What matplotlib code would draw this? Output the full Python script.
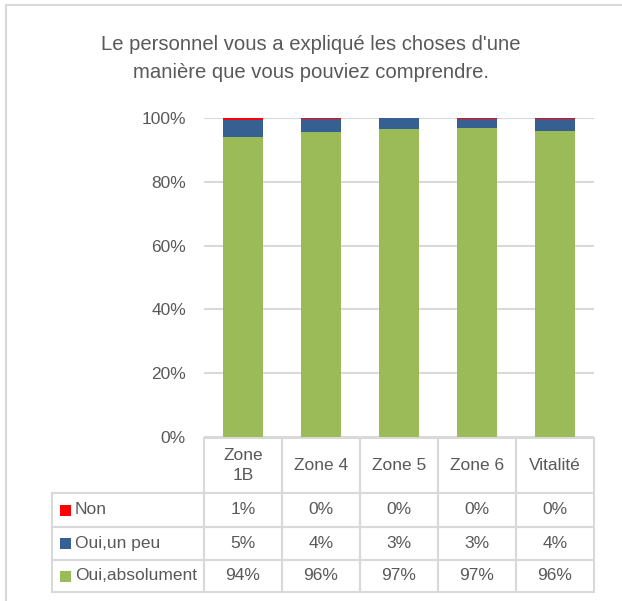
import matplotlib
matplotlib.use("Agg")
import matplotlib.pyplot as plt
from matplotlib.patches import Rectangle
import numpy as np

plt.rcParams['font.family'] = ['Liberation Sans Narrow', 'Liberation Sans', 'DejaVu Sans']

# --- données ---
categories = ['Zone\n1B', 'Zone 4', 'Zone 5', 'Zone 6', 'Vitalité']
series_names = ['Non', 'Oui,un peu', 'Oui,absolument']
non = [0.65, 0.4, 0.1, 0.3, 0.4]
oui_un_peu = [5.45, 3.9, 3.3, 2.8, 3.6]
oui_absolument = [93.9, 95.7, 96.6, 96.9, 96.0]
colors = ['#FF0000', '#376092', '#9BBB59']
title = "Le personnel vous a expliqué les choses d'une\nmanière que vous pouviez comprendre."

text_color = '#595959'
grid_color = '#D9D9D9'
fs = 12.5

W, H = 622, 601
fig = plt.figure(figsize=(W / 100, H / 100), dpi=100)

# cadre gris (haut et gauche visibles)
fig.add_artist(plt.Line2D([6 / W, 6 / W], [0, 1 - 5 / H], color=grid_color, lw=1.5))
fig.add_artist(plt.Line2D([6 / W, 1], [1 - 5 / H, 1 - 5 / H], color=grid_color, lw=1.5))

ax = fig.add_axes([204 / W, 1 - 437 / H, 390 / W, 319 / H])
x = np.arange(len(categories))
width = 0.51

# empilement de bas en haut: absolument, un peu, non
stack = [oui_absolument, oui_un_peu, non]
stack_colors = [colors[2], colors[1], colors[0]]
bottom = np.zeros(len(categories))
for vals, c in zip(stack, stack_colors):
    ax.bar(x, vals, width, bottom=bottom, color=c, edgecolor='none', zorder=3)
    bottom += np.array(vals)

ax.set_xlim(-0.5, len(categories) - 0.5)
ax.set_ylim(0, 100)
ax.set_yticks(np.arange(0, 101, 20))
ax.set_yticklabels([f'{v}%' for v in range(0, 101, 20)])
ax.tick_params(axis='y', length=0, pad=13, labelsize=fs, labelcolor=text_color)
ax.set_xticks([])
ax.grid(axis='y', color=grid_color, lw=1.5, zorder=0)
for s in ax.spines.values():
    s.set_visible(False)

fig.text(0.5, 1 - 58 / H, title, ha='center', va='center', fontsize=14.6,
         color=text_color, linespacing=1.6)

# --- tableau de données ---
tr = ax.get_xaxis_transform()
px = 78.0  # pixels par unité de données
label_left = -0.5 - (204 - 52) / px
row_edges = [-(438 - 437) / 319, -(493 - 437) / 319, -(527 - 437) / 319,
             -(560 - 437) / 319, -(592 - 437) / 319]
lw = 1.5

# en-tête
for i, cat in enumerate(categories):
    ax.add_patch(Rectangle((i - 0.5, row_edges[1]), 1, row_edges[0] - row_edges[1],
                           transform=tr, fill=False, edgecolor=grid_color, lw=lw, clip_on=False))
    ax.text(i, (row_edges[0] + row_edges[1]) / 2, cat, transform=tr, ha='center', va='center',
            fontsize=fs, color=text_color, linespacing=1.45, clip_on=False)

table_rows = [non, oui_un_peu, oui_absolument]
for r, (name, vals, c) in enumerate(zip(series_names, table_rows, colors)):
    top, bot = row_edges[r + 1], row_edges[r + 2]
    mid = (top + bot) / 2
    ax.add_patch(Rectangle((label_left, bot), -0.5 - label_left, top - bot, transform=tr,
                           fill=False, edgecolor=grid_color, lw=lw, clip_on=False))
    ax.add_patch(Rectangle((label_left + 8 / px, mid - 5.5 / 319), 11 / px, 11 / 319,
                           transform=tr, facecolor=c, edgecolor='none', clip_on=False))
    ax.text(label_left + 23 / px, mid, name, transform=tr, ha='left', va='center',
            fontsize=fs, color=text_color, clip_on=False)
    for i, v in enumerate(vals):
        ax.add_patch(Rectangle((i - 0.5, bot), 1, top - bot, transform=tr,
                               fill=False, edgecolor=grid_color, lw=lw, clip_on=False))
        ax.text(i, mid, f'{v:.0f}%', transform=tr, ha='center', va='center',
                fontsize=fs, color=text_color, clip_on=False)

fig.savefig('out.png', dpi=100)
